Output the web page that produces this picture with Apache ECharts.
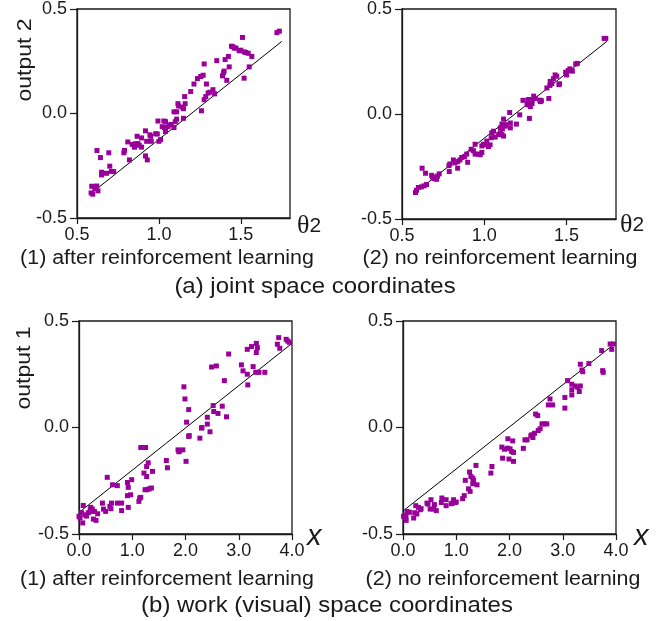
<!DOCTYPE html>
<html>
<head>
<meta charset="utf-8">
<script src="https://cdn.jsdelivr.net/npm/echarts@6/dist/echarts.min.js"></script>
<style>
  html, body { margin: 0; padding: 0; background: #fff; }
  #main { width: 667px; height: 621px; }
</style>
</head>
<body>
<div id="main"></div>
<script>
// joint space, after reinforcement learning  [theta2, output 2]
var jointAfter = [
  [1.735,0.394],[1.72,0.387],[1.51,0.364],
  [1.45,0.32],[1.46,0.313],[1.443,0.322],[1.47,0.313],
  [1.49,0.30],[1.50,0.303],[1.52,0.295],[1.53,0.292],[1.545,0.288],
  [1.567,0.273],[1.424,0.273],[1.404,0.258],[1.353,0.253],[1.276,0.237],
  [1.429,0.223],[1.551,0.223],[1.398,0.203],[1.394,0.195],[1.388,0.18],[1.414,0.159],[1.52,0.169],
  [1.27,0.183],[1.255,0.177],[1.235,0.167],[1.214,0.141],[1.194,0.105],[1.29,0.141],
  [1.33,0.114],[1.31,0.102],[1.34,0.094],[1.30,0.098],[1.286,0.081],[1.276,0.066],
  [1.157,0.081],[1.116,0.047],[1.12,0.036],[1.16,0.047],[1.14,0.031],[1.15,0.023],
  [1.092,0.008],[1.108,0.008],[1.26,0.013],
  [1.108,-0.027],[1.10,-0.039],[1.15,-0.023],
  [0.994,-0.036],[1.03,-0.036],[1.04,-0.039],
  [1.02,-0.063],[1.035,-0.067],[1.055,-0.063],[1.065,-0.055],[1.075,-0.052],[1.092,-0.067],
  [1.04,-0.086],[0.98,-0.097],[0.99,-0.098],[1.01,-0.125],[1.0,-0.133],
  [0.918,-0.083],[0.945,-0.102],[0.95,-0.109],[0.953,-0.133],[0.925,-0.133],
  [0.867,-0.109],[0.894,-0.117],[0.81,-0.136],
  [0.837,-0.148],[0.857,-0.145],[0.871,-0.144],[0.88,-0.152],[0.851,-0.161],[0.894,-0.161],
  [0.79,-0.177],[0.786,-0.188],[0.918,-0.203],[0.929,-0.222],[0.82,-0.222],
  [0.622,-0.177],[0.694,-0.188],[0.643,-0.211],[0.70,-0.252],
  [0.65,-0.281],[0.65,-0.294],[0.68,-0.286],[0.71,-0.277],[0.724,-0.278],
  [0.59,-0.348],[0.62,-0.347],[0.61,-0.352],[0.628,-0.37],[0.61,-0.36],[0.586,-0.38],[0.596,-0.386]
];

// joint space, no reinforcement learning
var jointNone = [
  [1.728,0.36],[1.738,0.36],[1.555,0.238],[1.565,0.241],
  [1.53,0.207],[1.52,0.215],[1.51,0.207],[1.494,0.199],[1.50,0.186],[1.535,0.204],
  [1.43,0.186],[1.44,0.18],[1.42,0.168],[1.40,0.155],[1.41,0.144],[1.398,0.136],[1.453,0.140],[1.457,0.144],
  [1.38,0.124],[1.392,0.074],[1.337,0.066],[1.341,0.059],[1.347,0.063],
  [1.30,0.085],[1.29,0.066],[1.31,0.074],[1.264,0.066],[1.27,0.069],[1.235,0.065],
  [1.27,0.043],[1.26,0.046],[1.28,0.035],[1.29,0.05],[1.274,-0.021],[1.215,-0.004],[1.154,0.007],
  [1.117,-0.024],[1.107,-0.048],[1.13,-0.051],[1.158,-0.043],[1.195,-0.048],
  [1.097,-0.066],[1.11,-0.071],[1.127,-0.058],[1.158,-0.066],
  [1.097,-0.09],[1.107,-0.098],[1.117,-0.105],[1.087,-0.098],[1.056,-0.082],[1.045,-0.09],
  [1.066,-0.11],[1.042,-0.113],
  [1.015,-0.129],[0.995,-0.144],[0.985,-0.152],[1.005,-0.147],[1.025,-0.155],[1.035,-0.147],[0.944,-0.144],
  [0.92,-0.168],[0.934,-0.175],[0.944,-0.191],[0.964,-0.191],[0.975,-0.194],[0.985,-0.183],
  [0.893,-0.191],[0.879,-0.204],[0.863,-0.207],[0.852,-0.219],[0.899,-0.23],
  [0.812,-0.219],[0.822,-0.233],[0.838,-0.227],[0.791,-0.238],[0.785,-0.246],[0.838,-0.258],[0.787,-0.274],
  [0.726,-0.285],[0.716,-0.296],[0.695,-0.308],[0.71,-0.311],[0.685,-0.30],[0.68,-0.292],
  [0.622,-0.258],[0.643,-0.282],
  [0.649,-0.336],[0.634,-0.342],[0.618,-0.347],[0.60,-0.35],[0.588,-0.363],[0.582,-0.374]
];

// work (visual) space, after reinforcement learning  [x, output 1]
var workAfter = [
  [3.75,0.422],[3.89,0.414],[3.92,0.406],[3.95,0.40],[3.725,0.391],[3.77,0.372],
  [3.33,0.395],[3.35,0.375],[3.24,0.38],[3.16,0.367],[3.33,0.352],[2.81,0.345],
  [3.05,0.294],[3.08,0.266],[3.16,0.25],[3.17,0.20],[3.27,0.286],
  [3.32,0.259],[3.38,0.259],[3.49,0.259],
  [2.49,0.284],[2.58,0.289],[2.73,0.22],
  [1.97,0.191],[1.99,0.134],[2.06,0.084],[2.02,0.025],[2.06,-0.042],[2.07,-0.038],
  [2.27,-0.05],[2.30,-0.003],[2.31,0.0],[2.41,0.016],[2.41,0.048],[2.46,-0.02],
  [2.52,0.103],[2.53,0.075],[2.61,0.066],[2.69,0.10],[2.77,0.05],
  [1.86,-0.105],[1.89,-0.11],[1.95,-0.105],[1.875,-0.114],[2.01,-0.159],
  [1.64,-0.155],[1.66,-0.189],
  [1.16,-0.094],[1.25,-0.094],
  [1.30,-0.166],[1.27,-0.183],[1.22,-0.214],[1.27,-0.23],[1.38,-0.206],
  [1.24,-0.292],[1.28,-0.292],[1.32,-0.288],[1.36,-0.284],
  [1.14,-0.331],[1.125,-0.347],[1.16,-0.328],
  [0.99,-0.245],[0.91,-0.258],[0.925,-0.281],[0.97,-0.316],[0.91,-0.32],[0.925,-0.375],
  [0.80,-0.355],[0.72,-0.355],[0.61,-0.355],[0.63,-0.269],[0.72,-0.273],[0.53,-0.234],[0.80,-0.39],
  [0.58,-0.37],[0.6,-0.381],[0.5,-0.394],[0.46,-0.383],[0.44,-0.355],
  [0.35,-0.405],[0.32,-0.436],[0.27,-0.43],[0.24,-0.394],[0.21,-0.386],[0.22,-0.375],[0.25,-0.383],[0.29,-0.394],
  [0.175,-0.40],[0.14,-0.416],[0.11,-0.41],[0.08,-0.366],[0.07,-0.448],[0.05,-0.40],[0.02,-0.425],[0.0,-0.417]
];

// work (visual) space, no reinforcement learning
var workNone = [
  [3.89,0.392],[3.95,0.392],[3.92,0.367],[3.73,0.361],
  [3.49,0.30],[3.33,0.297],[3.36,0.27],[3.375,0.262],[3.75,0.267],[3.76,0.259],
  [3.09,0.22],[3.17,0.203],[3.23,0.195],[3.28,0.189],[3.33,0.195],
  [3.17,0.177],[3.17,0.153],[3.31,0.169],[3.04,0.141],[3.04,0.091],
  [2.76,0.134],[2.73,0.106],[2.81,0.106],
  [2.49,0.063],[2.53,0.056],
  [2.61,0.017],[2.65,0.017],[2.70,0.017],[2.575,-0.006],[2.54,-0.014],
  [2.47,-0.027],[2.42,-0.034],[2.44,-0.047],[2.40,-0.039],
  [2.29,-0.058],[2.33,-0.058],[2.26,-0.098],
  [1.97,-0.053],[2.06,-0.063],[1.856,-0.092],[1.906,-0.102],[1.96,-0.097],[2.01,-0.1],[2.04,-0.113],[2.075,-0.117],[1.99,-0.148],[2.075,-0.159],[1.87,-0.144],
  [1.67,-0.183],[1.65,-0.214],[1.37,-0.178],
  [1.25,-0.209],[1.275,-0.23],[1.31,-0.238],[1.325,-0.248],[1.39,-0.269],[1.31,-0.264],[1.17,-0.248],[1.23,-0.288],[1.26,-0.30],[1.15,-0.32],[1.12,-0.334],
  [0.95,-0.339],[0.98,-0.352],[0.93,-0.355],[1.0,-0.35],[0.906,-0.358],
  [0.73,-0.331],[0.81,-0.339],[0.81,-0.367],[0.72,-0.352],
  [0.59,-0.362],[0.625,-0.39],[0.575,-0.383],[0.525,-0.339],[0.51,-0.383],[0.45,-0.355],[0.47,-0.36],
  [0.325,-0.386],[0.29,-0.375],[0.24,-0.367],[0.34,-0.381],[0.22,-0.40],[0.2,-0.425],[0.26,-0.406],
  [0.12,-0.398],[0.075,-0.394],[0.056,-0.414],[0.03,-0.417],[0.01,-0.417],[0.06,-0.436]
];

// straight reference lines (end points)
var lineJointA = [[0.59,-0.38],[1.75,0.345]];
var lineJointB = [[0.58,-0.375],[1.745,0.346]];
var lineWorkA = [[0.02,-0.395],[4.0,0.395]];
var lineWorkB = [[0.01,-0.39],[4.0,0.398]];

var yTicks = [-0.5, 0, 0.5];
var jointTicks = [0.5, 1.0, 1.5];
var workTicks = [0, 1, 2, 3, 4];

var FONT = '"Liberation Sans", Arial, sans-serif';
var INK = '#1a1a1a';
var PURPLE = '#990099';

var myChart = echarts.init(document.getElementById('main'));

var grids = [
  { left: 77, top: 5, width: 213, height: 213 },
  { left: 402, top: 6, width: 214, height: 213 },
  { left: 79, top: 321, width: 213, height: 213 },
  { left: 403, top: 321, width: 213, height: 213 }
];

function xAx(i, min, max, step, ticks) {
  return {
    gridIndex: i, type: 'value', min: min, max: max, interval: step,
    axisLine: { show: true, onZero: false, lineStyle: { color: INK, width: 1.3 } },
    axisTick: { show: true, inside: false, length: 6, customValues: ticks, lineStyle: { color: INK, width: 1.2 } },
    axisLabel: { customValues: ticks, margin: 8, color: INK, fontSize: 18, fontFamily: FONT,
      formatter: function (v) { return v.toFixed(1); } },
    splitLine: { show: false }
  };
}
function yAx(i) {
  return {
    gridIndex: i, type: 'value', min: -0.5, max: 0.5, interval: 0.5,
    axisLine: { show: true, onZero: false, lineStyle: { color: INK, width: 1.3 } },
    axisTick: { show: true, inside: false, length: 7, customValues: yTicks, lineStyle: { color: INK, width: 1.2 } },
    axisLabel: { customValues: yTicks, margin: 10, color: INK, fontSize: 18, fontFamily: FONT,
      formatter: function (v) { return v.toFixed(1); } },
    splitLine: { show: false }
  };
}

function dots(i, data) {
  return {
    type: 'scatter', xAxisIndex: i, yAxisIndex: i, data: data,
    symbol: 'rect', symbolSize: 5, clip: false,
    itemStyle: { color: PURPLE, opacity: 1 },
    silent: true, z: 3
  };
}
function fit(i, data) {
  return {
    type: 'line', xAxisIndex: i, yAxisIndex: i, data: data,
    symbol: 'none', lineStyle: { color: '#000', width: 1 },
    silent: true, z: 2
  };
}

function txt(x, y, s, size, extra) {
  var el = {
    type: 'text', x: x, y: y,
    style: { text: s, fill: INK, font: size + 'px ' + FONT, align: 'center', verticalAlign: 'middle' }
  };
  if (extra) for (var k in extra) el[k] = extra[k];
  return el;
}
function theta(x, y) {
  return {
    type: 'text', x: x, y: y,
    style: {
      text: '{t|θ}{n|2}', fill: INK, align: 'left', verticalAlign: 'middle',
      rich: {
        t: { fontFamily: '"Liberation Serif", serif', fontSize: 26, fill: INK },
        n: { fontFamily: FONT, fontSize: 21, fill: INK }
      }
    }
  };
}
function xName(x, y) {
  return {
    type: 'text', x: x, y: y,
    style: { text: 'x', fill: INK, font: 'italic 29px ' + FONT, align: 'left', verticalAlign: 'middle' }
  };
}

var option = {
  animation: false,
  backgroundColor: '#fff',
  grid: grids.map(function (g) {
    return Object.assign({ show: true, borderColor: INK, borderWidth: 1.3, backgroundColor: 'transparent' }, g);
  }),
  xAxis: [
    xAx(0, 0.5, 1.8, 0.5, jointTicks),
    xAx(1, 0.5, 1.8, 0.5, jointTicks),
    xAx(2, 0, 4, 1, workTicks),
    xAx(3, 0, 4, 1, workTicks)
  ],
  yAxis: [yAx(0), yAx(1), yAx(2), yAx(3)],
  series: [
    fit(0, lineJointA), dots(0, jointAfter),
    fit(1, lineJointB), dots(1, jointNone),
    fit(2, lineWorkA), dots(2, workAfter),
    fit(3, lineWorkB), dots(3, workNone)
  ],
  graphic: [
    txt(25, 60, 'output 2', 20, { rotation: Math.PI / 2, scaleX: 1.15 }),
    txt(24, 368, 'output 1', 20, { rotation: Math.PI / 2, scaleX: 1.15 }),
    theta(297, 226),
    theta(620, 225),
    xName(307, 537),
    xName(634, 537),
    txt(167, 258, '(1) after reinforcement learning', 20, { scaleX: 1.07 }),
    txt(500, 258, '(2) no reinforcement learning', 20, { scaleX: 1.07 }),
    txt(315, 287, '(a) joint space coordinates', 22, { scaleX: 1.09 }),
    txt(167, 579, '(1) after reinforcement learning', 20, { scaleX: 1.07 }),
    txt(503, 579, '(2) no reinforcement learning', 20, { scaleX: 1.07 }),
    txt(327, 606, '(b) work (visual) space coordinates', 22, { scaleX: 1.09 })
  ]
};

myChart.setOption(option);
</script>
</body>
</html>
